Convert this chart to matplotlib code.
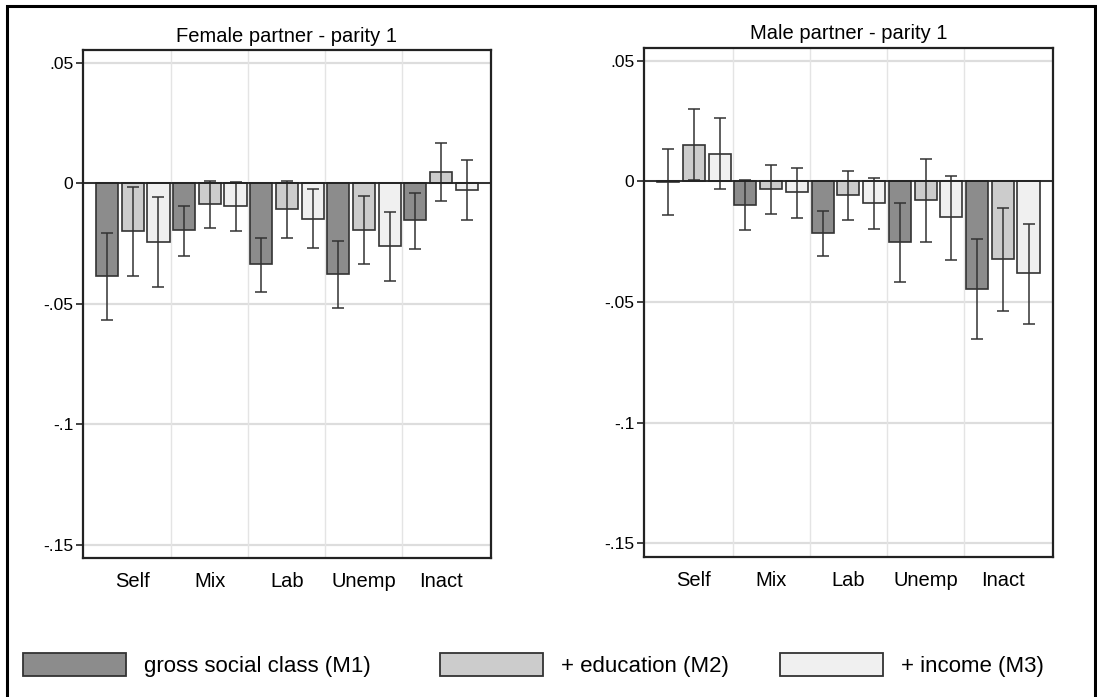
import numpy as np
import matplotlib
matplotlib.use("Agg")
import matplotlib.pyplot as plt
from matplotlib.patches import Patch, Rectangle

plt.rcParams["font.family"] = ["Liberation Sans", "DejaVu Sans"]

categories = ["Self", "Mix", "Lab", "Unemp", "Inact"]
models = ["gross social class (M1)", "+ education (M2)", "+ income (M3)"]
colors = ["#8c8c8c", "#cccccc", "#f0f0f0"]

# Female partner - parity 1: estimates and 95% CI bounds
female_m1 = [-0.0384, -0.0195, -0.0336, -0.0377, -0.0153]
female_m1_lo = [-0.0566, -0.0300, -0.0449, -0.0517, -0.0271]
female_m1_hi = [-0.0207, -0.0095, -0.0225, -0.0240, -0.0039]
female_m2 = [-0.0196, -0.0086, -0.0106, -0.0192, 0.0046]
female_m2_lo = [-0.0384, -0.0186, -0.0228, -0.0334, -0.0072]
female_m2_hi = [-0.0014, 0.0012, 0.0012, -0.0054, 0.0169]
female_m3 = [-0.0243, -0.0095, -0.0146, -0.0261, -0.0026]
female_m3_lo = [-0.0430, -0.0198, -0.0269, -0.0406, -0.0153]
female_m3_hi = [-0.0058, 0.0006, -0.0025, -0.0120, 0.0097]

# Male partner - parity 1
male_m1 = [-0.0003, -0.0098, -0.0215, -0.0252, -0.0444]
male_m1_lo = [-0.0140, -0.0202, -0.0310, -0.0416, -0.0654]
male_m1_hi = [0.0135, 0.0006, -0.0123, -0.0091, -0.0237]
male_m2 = [0.0150, -0.0033, -0.0056, -0.0077, -0.0321]
male_m2_lo = [0.0007, -0.0134, -0.0161, -0.0252, -0.0536]
male_m2_hi = [0.0300, 0.0067, 0.0045, 0.0094, -0.0109]
male_m3 = [0.0114, -0.0044, -0.0090, -0.0149, -0.0380]
male_m3_lo = [-0.0032, -0.0150, -0.0198, -0.0324, -0.0591]
male_m3_hi = [0.0264, 0.0055, 0.0014, 0.0023, -0.0175]

yticks = [0.05, 0, -0.05, -0.1, -0.15]
ytick_labels = [".05", "0", "-.05", "-.1", "-.15"]

panels = [
    ("Female partner - parity 1",
     [(female_m1, female_m1_lo, female_m1_hi),
      (female_m2, female_m2_lo, female_m2_hi),
      (female_m3, female_m3_lo, female_m3_hi)],
     [83 / 1097, (697 - 558) / 697, 408 / 1097, 508 / 697]),
    ("Male partner - parity 1",
     [(male_m1, male_m1_lo, male_m1_hi),
      (male_m2, male_m2_lo, male_m2_hi),
      (male_m3, male_m3_lo, male_m3_hi)],
     [644 / 1097, (697 - 556.7) / 697, 409 / 1097, 509 / 697]),
]

fig = plt.figure(figsize=(10.97, 6.97), dpi=100)

for title, series, rect in panels:
    ax = fig.add_axes(rect)
    for m, (vals, lo, hi) in enumerate(series):
        vals = np.array(vals)
        x = np.arange(len(categories)) * 3 + m
        err = [vals - np.array(lo), np.array(hi) - vals]
        ax.bar(x, vals, width=0.86, color=colors[m], edgecolor="#333333",
               linewidth=1.2, zorder=3)
        ax.errorbar(x, vals, yerr=err, fmt="none", ecolor="#333333",
                    elinewidth=1.1, capsize=4, capthick=1.1, zorder=4)
    ax.axhline(0, color="#222222", linewidth=1.3, zorder=5)
    for y in yticks:
        ax.axhline(y, color="#dddddd", linewidth=1.6, zorder=1)
    for xv in [2.5, 5.5, 8.5, 11.5]:
        ax.axvline(xv, color="#e4e4e4", linewidth=1.0, zorder=1)
    ax.set_xlim(-0.94, 14.95)
    ax.set_ylim(-0.1555, 0.0554)
    ax.set_yticks(yticks)
    ax.set_yticklabels(ytick_labels, fontsize=12.5)
    ax.set_xticks(np.arange(len(categories)) * 3 + 1)
    ax.set_xticklabels(categories, fontsize=14.5)
    ax.tick_params(axis="x", length=0, pad=10)
    ax.tick_params(axis="y", length=5, width=1.2, pad=2, color="#222222")
    for s in ax.spines.values():
        s.set_linewidth(1.6)
        s.set_color("#222222")
    ax.set_title(title, fontsize=14.5, pad=6)

# legend entries placed along the bottom
legend_x = [22.7, 440, 779.7]
for m, label in enumerate(models):
    h = Patch(facecolor=colors[m], edgecolor="#333333", linewidth=1.3)
    fig.legend(handles=[h], labels=[label], loc="center left",
               bbox_to_anchor=(legend_x[m] / 1097, (697 - 664.7) / 697),
               frameon=False, fontsize=16, handlelength=4.65,
               handleheight=1.26, handletextpad=0.8, borderpad=0,
               borderaxespad=0)

# outer frame (bottom edge falls outside the image)
fig.add_artist(Rectangle((6.5 / 1097, -0.05), (1095 - 6.5) / 1097,
                         (697 - 5.5) / 697 + 0.05, transform=fig.transFigure,
                         fill=False, edgecolor="black", linewidth=2.2))

fig.savefig("out.png", dpi=100)
